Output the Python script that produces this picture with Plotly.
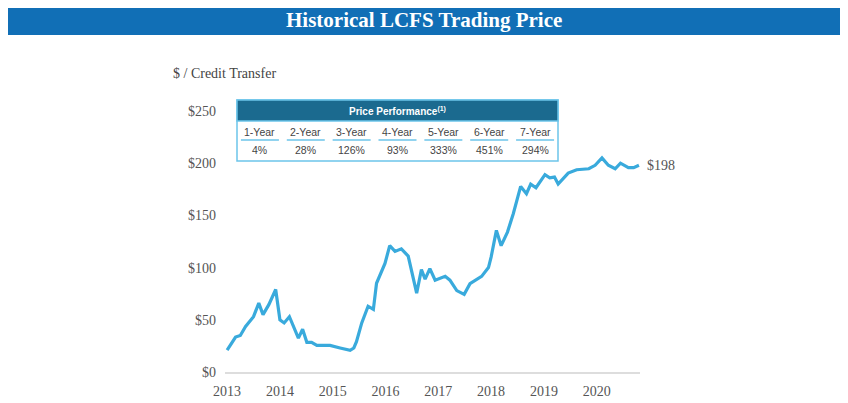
import plotly.graph_objects as go

# LCFS credit price (decimal year, $ / credit)
years = [2013.00, 2013.10, 2013.16, 2013.25, 2013.35, 2013.50, 2013.60, 2013.68, 2013.79, 2013.92,
         2014.00, 2014.08, 2014.18, 2014.35, 2014.43, 2014.51, 2014.60, 2014.70, 2014.95,
         2015.14, 2015.33, 2015.40, 2015.45, 2015.55, 2015.67, 2015.77, 2015.83, 2015.99,
         2016.08, 2016.18, 2016.30, 2016.43, 2016.59, 2016.68, 2016.75, 2016.84, 2016.94,
         2017.13, 2017.22, 2017.35, 2017.49, 2017.60, 2017.82, 2017.95,
         2018.00, 2018.10, 2018.19, 2018.31, 2018.42, 2018.56, 2018.67, 2018.75, 2018.85,
         2019.02, 2019.11, 2019.20, 2019.27, 2019.46, 2019.62, 2019.85, 2019.97,
         2020.10, 2020.22, 2020.35, 2020.45, 2020.60, 2020.70, 2020.80]
prices = [21, 28, 33.5, 35, 43.7, 53, 66, 55, 64.5, 79,
          50, 47, 53, 32.5, 41, 28.4, 28.4, 25.5, 25.5,
          23, 20.7, 23, 29, 47, 63, 60, 85, 104,
          121, 115.5, 118, 111, 75.6, 98, 89, 99, 88,
          91.6, 88, 78, 74.4, 84.6, 91.6, 100,
          110, 135.6, 121, 134, 151.6, 177.8, 170.8, 180, 176.5,
          189, 186, 186.7, 180, 190.5, 193.7, 194.7, 198,
          205, 198, 194.7, 200, 195.7, 195.7, 198]

# price performance table
perf_periods = ["1-Year", "2-Year", "3-Year", "4-Year", "5-Year", "6-Year", "7-Year"]
perf_values = ["4%", "28%", "126%", "93%", "333%", "451%", "294%"]

year_ticks = [2013, 2014, 2015, 2016, 2017, 2018, 2019, 2020]
price_ticks = [0, 50, 100, 150, 200, 250]

# the page body has an 8px margin; shift page positions back by OFF
OFF = 8
W, H = 848 - 2 * OFF, 403 - OFF
L, T = 225 - OFF, 111 - OFF
R = W - (640 - OFF)
B = H - (372 - OFF)
pw, ph = W - L - R, H - T - B


def px(x):
    return (x - OFF - L) / pw


def py(y):
    return (H - B - (y - OFF)) / ph


SERIF = "Liberation Serif, Times New Roman, serif"
SANS = "Liberation Sans, Arial, sans-serif"
GREY = "#555555"

fig = go.Figure()
fig.add_trace(go.Scatter(
    x=years, y=prices, mode="lines",
    line=dict(color="#39aadc", width=3.2),
    hoverinfo="x+y", showlegend=False,
))

shapes = []
annotations = []

# title bar
shapes.append(dict(type="rect", xref="paper", yref="paper",
                   x0=px(8), x1=px(840), y0=py(35), y1=py(6),
                   fillcolor="#116fb6", line=dict(width=0), layer="below"))
annotations.append(dict(text="<b>Historical LCFS Trading Price</b>", xref="paper", yref="paper",
                        x=px(424), y=py(20), showarrow=False, xanchor="center", yanchor="middle",
                        font=dict(family=SERIF, size=21, color="white")))

# y axis caption
annotations.append(dict(text="$ / Credit Transfer", xref="paper", yref="paper",
                        x=px(171), y=py(73), showarrow=False, xanchor="left", yanchor="middle",
                        font=dict(family=SERIF, size=14, color="#444444")))

# last value label
annotations.append(dict(text="$%d" % round(prices[-1]), xref="paper", yref="y",
                        x=px(645), y=prices[-1], showarrow=False, xanchor="left", yanchor="middle",
                        font=dict(family=SERIF, size=14, color=GREY)))

# performance table
tx0, tx1, ty0, ty1 = 237, 558, 100, 161
shapes.append(dict(type="rect", xref="paper", yref="paper",
                   x0=px(tx0), x1=px(tx1), y0=py(ty1), y1=py(ty0),
                   fillcolor="white", line=dict(color="#6cc5ea", width=1.5)))
shapes.append(dict(type="rect", xref="paper", yref="paper",
                   x0=px(tx0), x1=px(tx1), y0=py(121), y1=py(ty0),
                   fillcolor="#1b6a8f", line=dict(color="#6cc5ea", width=1.5)))
annotations.append(dict(text="<b>Price Performance<sup>(1)</sup></b>", xref="paper", yref="paper",
                        x=px(397), y=py(111), showarrow=False, xanchor="center", yanchor="middle",
                        font=dict(family=SANS, size=10, color="white")))
col_w = (tx1 - tx0) / len(perf_periods)
for i, (p, v) in enumerate(zip(perf_periods, perf_values)):
    cx = tx0 + col_w * (i + 0.5)
    annotations.append(dict(text=p, xref="paper", yref="paper", x=px(cx), y=py(132),
                            showarrow=False, xanchor="center", yanchor="middle",
                            font=dict(family=SANS, size=10.5, color="#444444")))
    annotations.append(dict(text=v, xref="paper", yref="paper", x=px(cx), y=py(150),
                            showarrow=False, xanchor="center", yanchor="middle",
                            font=dict(family=SANS, size=10.5, color="#444444")))
    shapes.append(dict(type="line", xref="paper", yref="paper",
                       x0=px(cx - 19), x1=px(cx + 19), y0=py(140), y1=py(140),
                       line=dict(color="#6cc5ea", width=1.5)))

fig.update_layout(
    width=W, height=H,
    margin=dict(l=L, r=R, t=T, b=B),
    paper_bgcolor="white", plot_bgcolor="white",
    shapes=shapes, annotations=annotations,
    xaxis=dict(range=[2012.96, 2020.82], tickvals=year_ticks, ticktext=[str(y) for y in year_ticks],
               showgrid=False, zeroline=False, showline=True, linecolor="#dddddd", linewidth=1.5,
               ticks="", ticklabelstandoff=5, automargin=False,
               tickfont=dict(family=SERIF, size=14, color=GREY)),
    yaxis=dict(range=[0, 250], tickvals=price_ticks, ticktext=["$%d" % v for v in price_ticks],
               showgrid=False, zeroline=False, showline=False, ticks="", ticklabelstandoff=8,
               automargin=False,
               tickfont=dict(family=SERIF, size=14, color=GREY)),
)

fig.write_html("out.html")
